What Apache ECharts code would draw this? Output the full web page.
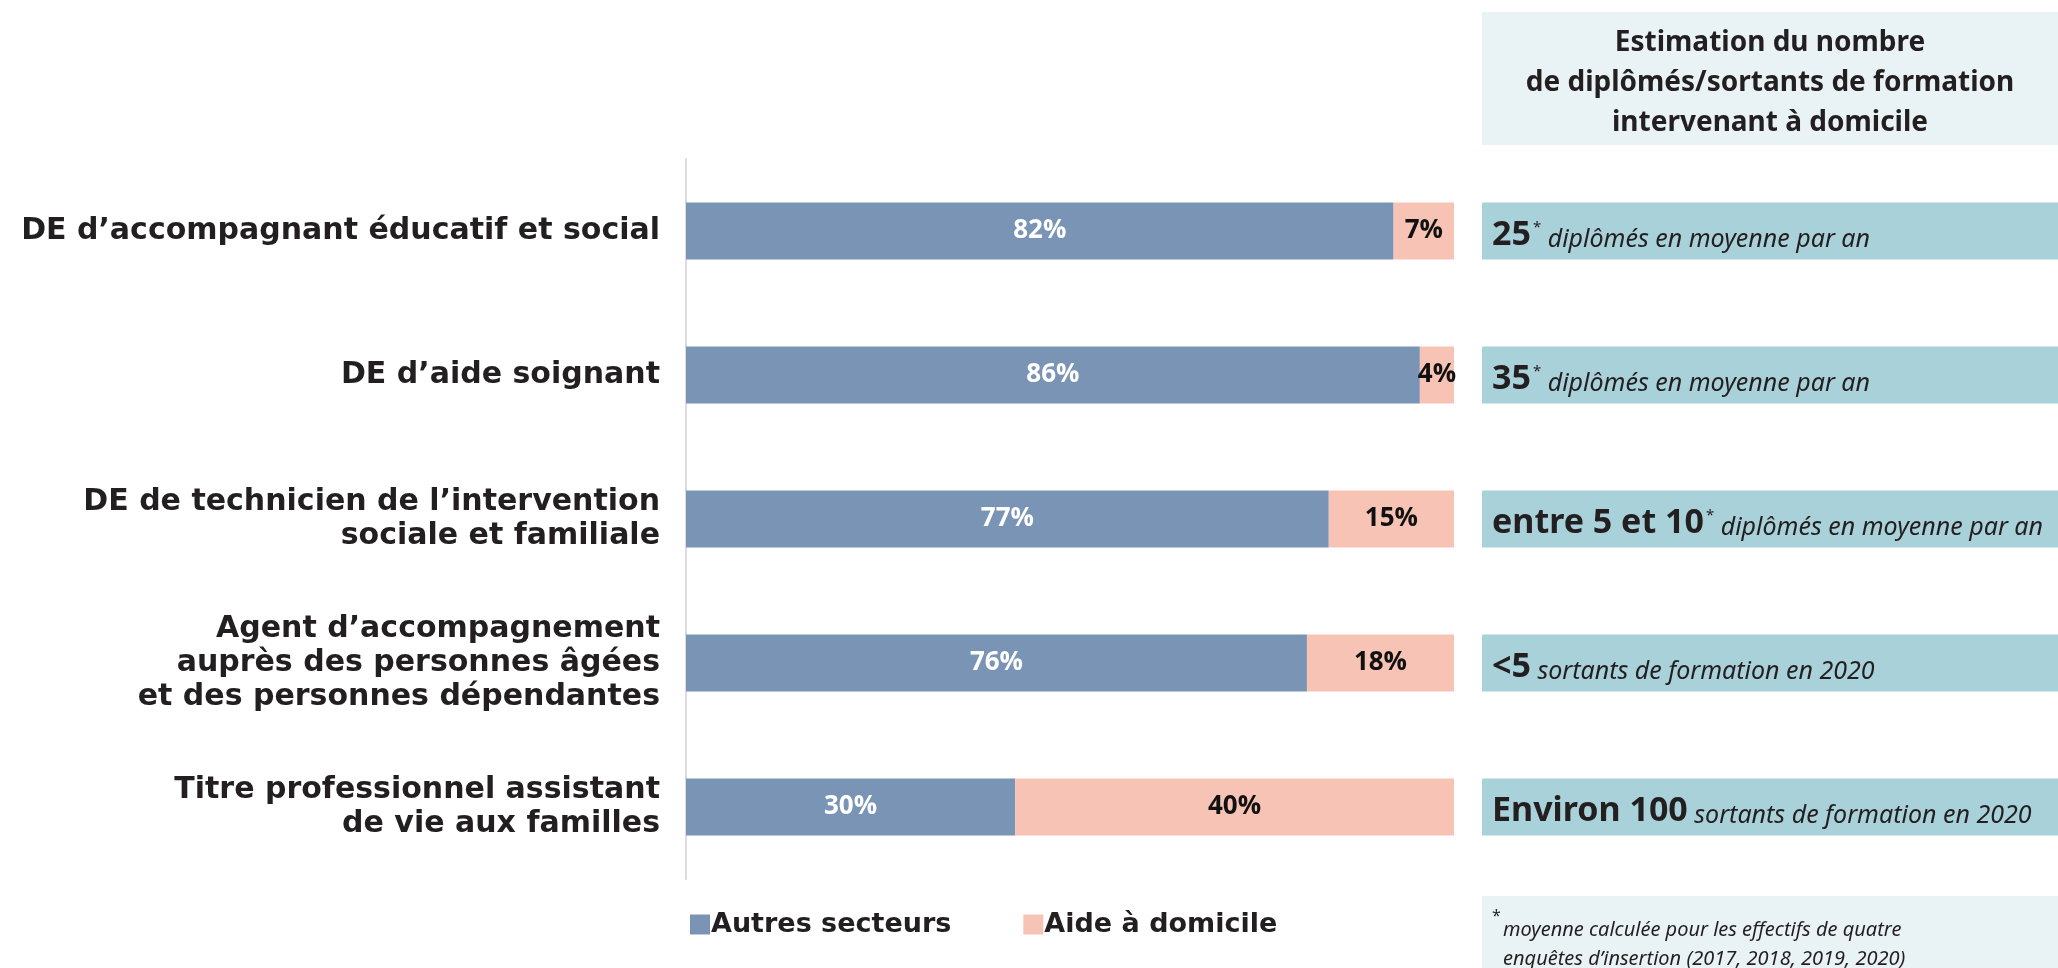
<!DOCTYPE html>
<html>
<head>
<meta charset="utf-8">
<style>html,body{margin:0;padding:0;background:#fff}#c{width:2058px;height:968px}</style>
<script src="https://cdn.jsdelivr.net/npm/echarts@6/dist/echarts.min.js"></script>
</head>
<body>
<div id="c"></div>
<script>
const categories = [
  "DE d’accompagnant éducatif et social",
  "DE d’aide soignant",
  "DE de technicien de l’intervention\nsociale et familiale",
  "Agent d’accompagnement\nauprès des personnes âgées\net des personnes dépendantes",
  "Titre professionnel assistant\nde vie aux familles"
];
const autresSecteurs = [82, 86, 77, 76, 30];
const aideDomicile = [7, 4, 15, 18, 40];
const panelLead = ["25", "35", "entre 5 et 10", "<5", "Environ 100"];
const panelStar = [true, true, true, false, false];
const panelText = [
  "diplômés en moyenne par an",
  "diplômés en moyenne par an",
  "diplômés en moyenne par an",
  "sortants de formation en 2020",
  "sortants de formation en 2020"
];
const headerText = "Estimation du nombre\nde diplômés/sortants de formation\nintervenant à domicile";
const footLines = "moyenne calculée pour les effectifs de quatre\nenquêtes d’insertion (2017, 2018, 2019, 2020)";

const totals = autresSecteurs.map((v, i) => v + aideDomicile[i]);
const shareAutres = autresSecteurs.map((v, i) => v / totals[i]);
const shareAide = aideDomicile.map((v, i) => v / totals[i]);

const dark = '#231f20';
const chart = echarts.init(document.getElementById('c'));
chart.setOption({
  animation: false,
  grid: [
    {left: 686, right: 604, top: 159, bottom: 89},
    {left: 1482, right: 0, top: 159, bottom: 89}
  ],
  xAxis: [
    {type: 'value', min: 0, max: 1, show: false, gridIndex: 0},
    {type: 'value', min: 0, max: 1, show: false, gridIndex: 1}
  ],
  yAxis: [
    {type: 'category', data: categories, inverse: true, gridIndex: 0,
     axisLine: {show: true, lineStyle: {color: '#dcdcdc', width: 2}},
     axisTick: {show: false},
     axisLabel: {margin: 26, color: dark, fontFamily: 'DejaVu Sans', fontWeight: 'bold', fontSize: 30, lineHeight: 34,
       padding: [10, 0, 0, 0]}},
    {type: 'category', data: categories, inverse: true, gridIndex: 1, show: false}
  ],
  legend: {
    data: ['Autres secteurs', 'Aide à domicile'],
    left: 685, top: 906, icon: 'rect', itemWidth: 20, itemHeight: 20, itemGap: 72,
    textStyle: {color: dark, fontFamily: 'DejaVu Sans', fontWeight: 'bold', fontSize: 27, padding: [0, 0, 0, -4]}
  },
  series: [
    {name: 'Autres secteurs', type: 'bar', stack: 's', barWidth: 57, xAxisIndex: 0, yAxisIndex: 0,
     data: shareAutres, itemStyle: {color: '#7a94b5'},
     label: {show: true, position: 'inside', color: '#fff', fontFamily: 'Open Sans', fontWeight: 'bold', fontSize: 26,
       formatter: p => autresSecteurs[p.dataIndex] + '%'}},
    {name: 'Aide à domicile', type: 'bar', stack: 's', barWidth: 57, xAxisIndex: 0, yAxisIndex: 0,
     data: shareAide, itemStyle: {color: '#f7c3b4'},
     label: {show: true, position: 'inside', color: '#111', fontFamily: 'Open Sans', fontWeight: 'bold', fontSize: 26,
       formatter: p => aideDomicile[p.dataIndex] + '%'}},
    {name: 'panel', type: 'bar', barWidth: 57, xAxisIndex: 1, yAxisIndex: 1,
     data: categories.map(() => 1), itemStyle: {color: '#a9d1d9'}, silent: true,
     label: {show: true, position: 'insideLeft', distance: 10, offset: [0, 4],
       formatter: p => '{b|' + panelLead[p.dataIndex] + '}' + (panelStar[p.dataIndex] ? '{s|*}' : '') + '{i| ' + panelText[p.dataIndex] + '}',
       rich: {
         b: {fontFamily: 'Noto Sans', fontWeight: 'bold', fontSize: 34, color: dark, lineHeight: 34, verticalAlign: 'bottom'},
         s: {fontFamily: 'Noto Sans', fontSize: 15, color: dark, lineHeight: 15, verticalAlign: 'top', padding: [2, 0, 0, 2]},
         i: {fontFamily: 'Noto Sans', fontStyle: 'italic', fontSize: 25, color: dark, lineHeight: 25, verticalAlign: 'bottom'}
       }}}
  ],
  graphic: [
    {type: 'rect', shape: {x: 1482, y: 12, width: 576, height: 133}, style: {fill: '#e9f3f6'}, z: 0},
    {type: 'text', x: 1770, y: 83, style: {text: headerText, textAlign: 'center', textVerticalAlign: 'middle',
      font: 'bold 28px "Noto Sans"', lineHeight: 40, fill: dark}},
    {type: 'rect', shape: {x: 1482, y: 896, width: 576, height: 72}, style: {fill: '#e9f3f6'}, z: 0},
    {type: 'text', x: 1492, y: 908, style: {text: '*', font: '16px "Noto Sans"', fill: dark, textVerticalAlign: 'top'}},
    {type: 'text', x: 1503, y: 945, style: {text: footLines, textVerticalAlign: 'middle',
      font: 'italic 20px "Noto Sans"', lineHeight: 29, fill: dark}}
  ]
});
</script>
</body>
</html>
